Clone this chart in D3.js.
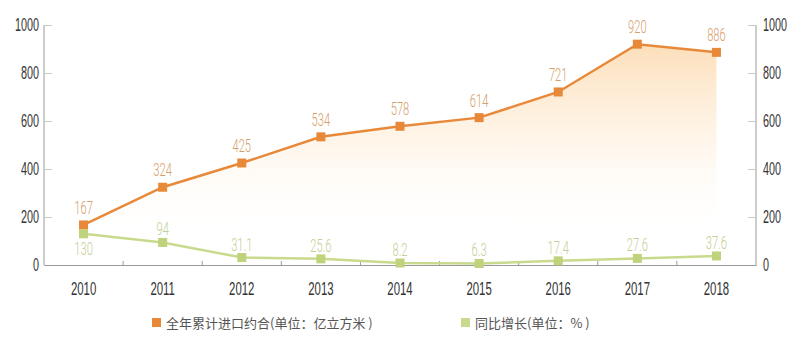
<!DOCTYPE html>
<html>
<head>
<meta charset="utf-8">
<script src="https://cdn.jsdelivr.net/npm/d3@7"></script>
<style>
  body { margin: 0; background: #fff; }
</style>
</head>
<body>
<script>
var years = ["2010", "2011", "2012", "2013", "2014", "2015", "2016", "2017", "2018"];
var imports = [167, 324, 425, 534, 578, 614, 721, 920, 886];
var growth = [130, 94, 31.1, 25.6, 8.2, 6.3, 17.4, 27.6, 37.6];
var growthLabels = ["130", "94", "31.1", "25.6", "8.2", "6.3", "17.4", "27.6", "37.6"];
var yTicks = [0, 200, 400, 600, 800, 1000];
var legendNames = ["全年累计进口约合(单位：亿立方米 )", "同比增长(单位：% )"];

var width = 800, height = 358;
var orange = "#e8893a", green = "#c9da8c";
var numFont = "'Liberation Sans', Arial, sans-serif";
var labelFont = "Roboto, 'Liberation Sans', sans-serif";

var svg = d3.select("body").append("svg")
    .attr("width", width)
    .attr("height", height);

var x = d3.scaleBand().domain(years).range([44, 756]).padding(0);
var y = d3.scaleLinear().domain([0, 1000]).range([265, 25]);
var cx = function(d, i) { return x(years[i]) + x.bandwidth() / 2; };

// squeeze texts horizontally to get the tall narrow digits
function condense(sel, sx) {
  sel.each(function() {
    var t = d3.select(this);
    var tx = +t.attr("x") || 0;
    t.attr("x", tx / sx).attr("transform", "scale(" + sx + ",1)");
  });
}

var defs = svg.append("defs");
var grad = defs.append("linearGradient").attr("id", "fill")
    .attr("gradientUnits", "userSpaceOnUse")
    .attr("x1", 0).attr("y1", y(930)).attr("x2", 0).attr("y2", y(100));
grad.append("stop").attr("offset", "0%").attr("stop-color", "#fbd09a").attr("stop-opacity", 0.7);
grad.append("stop").attr("offset", "45%").attr("stop-color", "#fde6c8").attr("stop-opacity", 0.45);
grad.append("stop").attr("offset", "100%").attr("stop-color", "#fff").attr("stop-opacity", 0);

// area under orange line
svg.append("path")
    .datum(imports)
    .attr("d", d3.area().x(cx).y0(y(0)).y1(function(d) { return y(d); }))
    .attr("fill", "url(#fill)");

// axes
var axisColor = "#9a9a9a";
var left = svg.append("g").attr("transform", "translate(44,0)")
    .call(d3.axisLeft(y).tickValues(yTicks).tickFormat(d3.format("d")).tickSize(-8).tickPadding(5));
var right = svg.append("g").attr("transform", "translate(756,0)")
    .call(d3.axisRight(y).tickValues(yTicks).tickFormat(d3.format("d")).tickSize(-8).tickPadding(7));
[left, right].forEach(function(g) {
  g.select(".domain").attr("stroke", axisColor).attr("d", "M0," + y(1000) + "V" + y(0));
  g.selectAll(".tick line").attr("stroke", "#c8c8c8");
  g.selectAll(".tick text").attr("fill", "#333").style("font-size", "18px")
      .style("font-family", numFont).call(condense, 0.6);
});

var bottom = svg.append("g").attr("transform", "translate(0," + y(0) + ")")
    .call(d3.axisBottom(x).tickSize(0).tickPadding(17));
bottom.select(".domain").attr("stroke", axisColor);
bottom.selectAll(".tick text").attr("fill", "#333").style("font-size", "19px")
    .style("font-family", numFont).call(condense, 0.6);
// small ticks at band boundaries
bottom.selectAll(".sep").data(years.slice(1)).enter().append("line")
    .attr("x1", function(d) { return x(d); }).attr("x2", function(d) { return x(d); })
    .attr("y1", 0).attr("y2", -4).attr("stroke", axisColor);

// orange line
svg.append("path").datum(imports)
    .attr("d", d3.line().x(cx).y(function(d) { return y(d); }))
    .attr("fill", "none").attr("stroke", orange).attr("stroke-width", 2.5);
svg.selectAll(".om").data(imports).enter().append("rect")
    .attr("x", function(d, i) { return cx(d, i) - 4.5; })
    .attr("y", function(d) { return y(d) - 4.5; })
    .attr("width", 9).attr("height", 9).attr("fill", orange);
svg.selectAll(".ol").data(imports).enter().append("text")
    .attr("x", cx).attr("y", function(d) { return y(d) - 11; })
    .attr("text-anchor", "middle").attr("fill", "#d6a06c")
    .style("font-size", "18px").style("font-family", labelFont).style("font-weight", 300)
    .text(function(d) { return d; })
    .call(condense, 0.62);

// green line
svg.append("path").datum(growth)
    .attr("d", d3.line().x(cx).y(function(d) { return y(d); }))
    .attr("fill", "none").attr("stroke", green).attr("stroke-width", 2.5);
svg.selectAll(".gm").data(growth).enter().append("rect")
    .attr("x", function(d, i) { return cx(d, i) - 4.5; })
    .attr("y", function(d) { return y(d) - 4.5; })
    .attr("width", 9).attr("height", 9).attr("fill", "#bfd27c");
svg.selectAll(".gl").data(growth).enter().append("text")
    .attr("x", cx)
    .attr("y", function(d, i) { return i === 0 ? y(d) + 21 : y(d) - 7; })
    .attr("text-anchor", "middle").attr("fill", "#c2cf96")
    .style("font-size", "18px").style("font-family", labelFont).style("font-weight", 300)
    .text(function(d, i) { return growthLabels[i]; })
    .call(condense, 0.62);

// legend
var legend = svg.selectAll(".lg").data(legendNames).enter().append("g")
    .attr("transform", function(d, i) { return "translate(" + (i === 0 ? 152 : 461) + ",318)"; });
legend.append("rect").attr("width", 9).attr("height", 9)
    .attr("fill", function(d, i) { return i === 0 ? orange : "#c9da8c"; });
legend.append("text").attr("x", 14).attr("y", 9.5)
    .attr("fill", "#555").style("font-size", "13px")
    .style("font-family", "'Noto Sans CJK SC', sans-serif")
    .text(function(d) { return d; });
</script>
</body>
</html>
